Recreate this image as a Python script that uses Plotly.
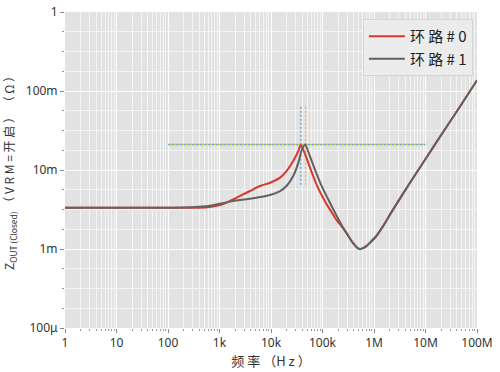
import plotly.graph_objects as go

# ---- data ----
freq_loop1 = [1, 10, 100, 200, 400, 650, 1000, 1600, 2500, 3900, 6100, 9600, 15000, 20000,
              27000, 34000, 39000, 46000, 52000, 57000, 71000, 96000, 129000, 175000, 236000,
              300000, 380000, 450000, 518000, 600000, 700000, 835000, 1.1e6, 1.5e6, 2.2e6,
              5e6, 1e7, 2e7, 5e7, 1e8]
z_loop1 = [3.33e-3, 3.33e-3, 3.33e-3, 3.35e-3, 3.42e-3, 3.52e-3, 3.74e-3, 3.98e-3, 4.17e-3,
           4.33e-3, 4.55e-3, 4.83e-3, 5.42e-3, 6.27e-3, 8.4e-3, 12.4e-3, 17.4e-3, 21.1e-3,
           17.5e-3, 15.0e-3, 10.2e-3, 6.3e-3, 4.26e-3, 2.88e-3, 2.0e-3,
           1.55e-3, 1.22e-3, 1.07e-3, 1.0e-3, 1.02e-3, 1.08e-3, 1.2e-3, 1.45e-3, 1.95e-3, 2.95e-3,
           6.9e-3, 13.8e-3, 27.5e-3, 68e-3, 137e-3]

freq_loop0 = [1, 10, 100, 200, 400, 650, 1020, 1600, 2500, 3900, 6100, 9600, 15000, 20000,
              27000, 34000, 37700, 45700, 57000, 77000, 112000, 149000, 190000, 236000,
              300000, 380000, 450000, 518000, 600000, 700000, 835000, 1.1e6, 1.5e6, 2.2e6,
              5e6, 1e7, 2e7, 5e7, 1e8]
z_loop0 = [3.33e-3, 3.33e-3, 3.33e-3, 3.33e-3, 3.33e-3, 3.40e-3, 3.6e-3, 4.05e-3, 4.69e-3,
           5.42e-3, 6.27e-3, 6.9e-3, 8.0e-3, 9.7e-3, 13e-3, 17.4e-3, 20.7e-3, 16.0e-3,
           10.8e-3, 6.5e-3, 4.0e-3, 2.95e-3, 2.3e-3, 1.93e-3,
           1.55e-3, 1.22e-3, 1.07e-3, 1.0e-3, 1.02e-3, 1.08e-3, 1.2e-3, 1.45e-3, 1.95e-3, 2.95e-3,
           6.9e-3, 13.8e-3, 27.5e-3, 68e-3, 137e-3]

ref_h_freq = [100, 1e7]
ref_h_z = [21e-3, 21e-3]
peak0_freq = [37700, 37700]
peak1_freq = [47000, 47000]
peak_v_z = [6.5e-3, 65e-3]

series_names = ["环\u00a0路\u00a0#\u00a00", "环\u00a0路\u00a0#\u00a01"]
x_tickvals = [1, 10, 100, 1e3, 1e4, 1e5, 1e6, 1e7, 1e8]
x_ticktext = ["1", "10", "100", "1k", "10k", "100k", "1M", "10M", "100M"]
y_tickvals = [1e-4, 1e-3, 1e-2, 1e-1, 1]
y_ticktext = ["100μ", "1m", "10m", "100m", "1"]
x_minor_digits = [2, 3, 4, 5, 6, 7, 8, 9]
y_minor_frac = [0.25, 0.5, 0.75]

x_minor = [d * 10 ** k for k in range(0, 8) for d in x_minor_digits]
y_minor = [10 ** (k + f) for k in range(-4, 0) for f in y_minor_frac]

fig = go.Figure()

# reference dotted lines
fig.add_trace(go.Scatter(x=ref_h_freq, y=ref_h_z, mode="lines", showlegend=False,
                         line=dict(color="#7aa6d8", width=1.5, dash="2px,2px"), hoverinfo="skip"))
fig.add_trace(go.Scatter(x=ref_h_freq, y=ref_h_z, mode="lines", showlegend=False,
                         line=dict(color="#b6cc5a", width=1.5, dash="0px,2px,2px,0px"), hoverinfo="skip"))
fig.add_trace(go.Scatter(x=peak0_freq, y=peak_v_z, mode="lines", showlegend=False,
                         line=dict(color="#7aa6d8", width=1.5, dash="2px,2px"), hoverinfo="skip"))
fig.add_trace(go.Scatter(x=peak1_freq, y=peak_v_z, mode="lines", showlegend=False,
                         line=dict(color="#e8b87a", width=1.5, dash="2px,2px"), hoverinfo="skip"))

fig.add_trace(go.Scatter(x=freq_loop0, y=z_loop0, mode="lines", name=series_names[0],
                         line=dict(color="#d9382c", width=2, shape="spline", smoothing=0.8)))
fig.add_trace(go.Scatter(x=freq_loop1, y=z_loop1, mode="lines", name=series_names[1],
                         line=dict(color="#626262", width=2, shape="spline", smoothing=0.8)))

font_family = "Noto Sans, Noto Sans CJK SC, sans-serif"

fig.update_layout(
    width=500, height=372,
    margin=dict(l=65, r=23, t=12, b=44),
    paper_bgcolor="white",
    plot_bgcolor="#e2e2e2",
    font=dict(family=font_family, size=12, color="#333333"),
    legend=dict(x=0.99, y=0.978, xanchor="right", yanchor="top",
                bgcolor="#ececec", bordercolor="#d6d6d6", borderwidth=1,
                font=dict(family="Noto Sans CJK SC", size=15, color="#222222"),
                itemwidth=36, tracegroupgap=0),
)

fig.update_xaxes(
    type="log", range=[0, 8], automargin=False,
    tickmode="array", tickvals=x_tickvals, ticktext=x_ticktext,
    ticks="outside", ticklen=4, tickcolor="#888888", tickwidth=1,
    showgrid=True, gridcolor="white", gridwidth=1.2,
    showline=False, zeroline=False,
    tickfont=dict(size=12, color="#333333"),
    minor=dict(tickmode="array", tickvals=x_minor, ticks="outside", ticklen=2,
               tickcolor="#999999", showgrid=True, gridcolor="#f4f4f4", gridwidth=0.7),
    title=dict(text="频\u00a0率\u00a0（H\u00a0z\u00a0）",
               font=dict(size=13, color="#333333", family="Noto Sans CJK SC"), standoff=3),
)

fig.update_yaxes(
    type="log", range=[-4, 0], automargin=False,
    tickmode="array", tickvals=y_tickvals, ticktext=y_ticktext,
    ticks="outside", ticklen=4, tickcolor="#888888", tickwidth=1,
    showgrid=True, gridcolor="white", gridwidth=1.2,
    showline=False, zeroline=False,
    tickfont=dict(size=12, color="#333333"),
    minor=dict(tickmode="array", tickvals=y_minor, ticks="outside", ticklen=2,
               tickcolor="#999999", showgrid=True, gridcolor="#f4f4f4", gridwidth=0.7),
    title=dict(text="Z<sub>OUT (Closed)</sub>\u00a0（\u00a0V\u00a0R\u00a0M\u00a0=\u00a0开\u00a0启\u00a0）\u00a0（\u00a0Ω\u00a0）",
               font=dict(size=12, color="#333333", family="Noto Sans CJK SC"), standoff=14),
)

fig.write_html("out.html")
